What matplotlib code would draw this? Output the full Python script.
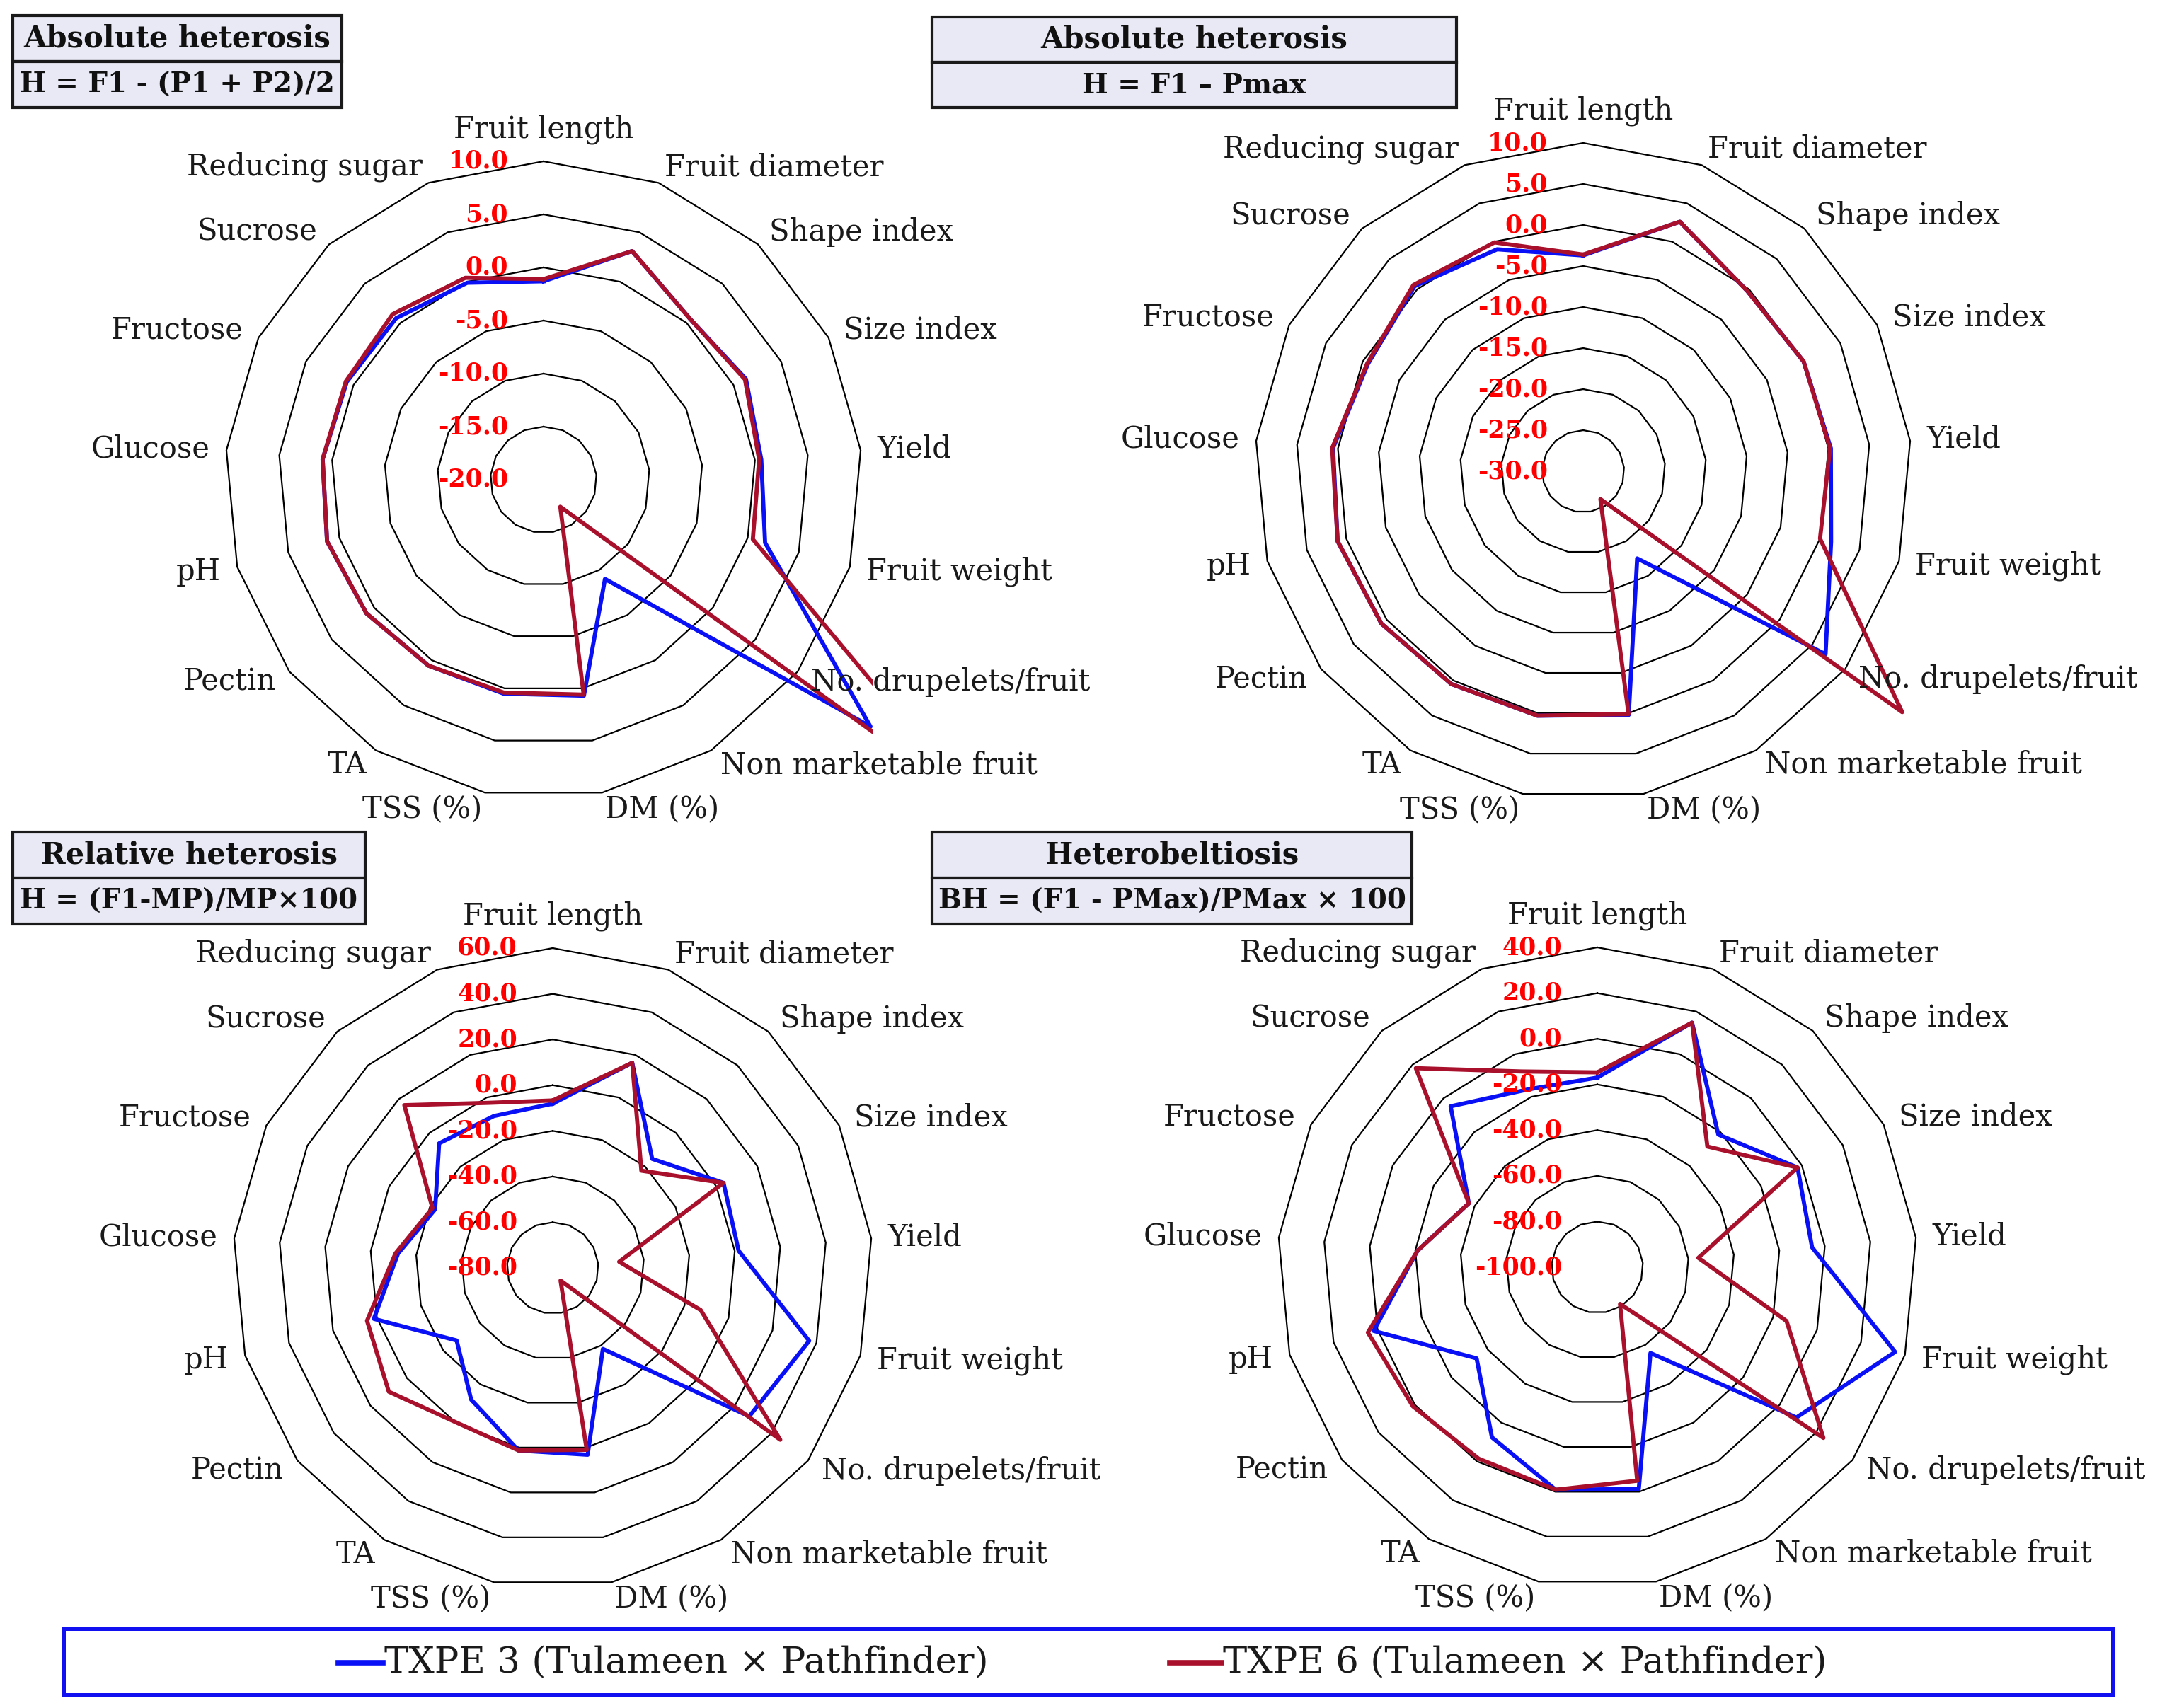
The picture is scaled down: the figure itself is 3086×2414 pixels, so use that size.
import numpy as np
import matplotlib.pyplot as plt
from matplotlib.patches import Rectangle
from matplotlib.lines import Line2D

plt.rcParams['font.family'] = ['DejaVu Serif']

W, H = 3086, 2414

categories = ['Fruit length', 'Fruit diameter', 'Shape index', 'Size index', 'Yield',
              'Fruit weight', 'No. drupelets/fruit', 'Non marketable fruit', 'DM (%)',
              'TSS (%)', 'TA', 'Pectin', 'pH', 'Glucose', 'Fructose', 'Sucrose',
              'Reducing sugar']

series_names = ['TXPE 3 (Tulameen × Pathfinder)', 'TXPE 6 (Tulameen × Pathfinder)']

# H = F1 - (P1 + P2)/2
abs_mid_txpe3 = [-1.3, 3.1, 0.5, 1.3, 0.6, 1.7, 18.6, -9.0, 0.7, 0.5, 0.6, 0.9, 1.2, 0.9, 0.7, 0.6, -0.1]
abs_mid_txpe6 = [-1.1, 3.1, 0.5, 1.2, 0.4, 0.5, 31.0, -17.0, 0.6, 0.4, 0.6, 0.9, 1.2, 0.9, 0.8, 1.1, 0.4]

# H = F1 - Pmax
abs_max_txpe3 = [-3.7, 2.6, -0.3, 0.0, 0.3, 1.4, 7.0, -17.5, 0.2, 0.3, 0.5, 0.8, 1.1, 0.6, -0.7, 0.5, -1.0]
abs_max_txpe6 = [-3.6, 2.6, -0.3, 0.0, 0.2, 0.0, 18.7, -26.0, 0.1, 0.3, 0.5, 0.8, 1.1, 0.7, -0.6, 0.7, -0.1]

# H = (F1-MP)/MP x 100
rel_txpe3 = [-8.1, 16.3, -15.4, 3.5, 1.7, 36.7, 27.8, -38.3, 3.2, 1.3, -12.2, -27.3, 1.4, -12.0, -22.5, -6.2, -8.7]
rel_txpe6 = [-6.7, 16.3, -22.4, 3.5, -50.8, -12.7, 44.8, -73.5, 1.0, 1.3, -0.3, 9.9, 4.5, -10.9, -21.2, 16.4, -2.5]

# BH = (F1 - PMax)/PMax x 100
hb_txpe3 = [-17.0, 14.8, -21.4, -2.1, -5.6, 35.5, 9.2, -55.8, -1.2, -0.9, -12.4, -33.8, 1.8, -21.0, -37.2, -4.7, -16.5]
hb_txpe6 = [-14.7, 14.8, -28.5, -2.1, -55.6, -13.9, 24.0, -81.1, -4.9, -0.9, -1.4, 1.1, 4.4, -21.0, -37.2, 17.9, -8.1]

BLUE = '#0A10F5'
RED = '#A8102C'

n = len(categories)
angles = np.arange(n) * 2 * np.pi / n
ring_x = np.sin(np.append(angles, angles[0]))
ring_y = np.cos(np.append(angles, angles[0]))

fig = plt.figure(figsize=(W / 100, H / 100), dpi=100)


def radar(cx, cy, R, vmin, vmax, step, s3, s6):
    L = 1.036  # plot area edge, lines beyond it get clipped like in Excel
    ax = fig.add_axes([(cx - L * R) / W, 1 - (cy + L * R) / H, 2 * L * R / W, 2 * L * R / H])
    ax.set_xlim(-L, L)
    ax.set_ylim(-L, L)
    ax.axis('off')
    ticks = np.arange(vmin, vmax + step / 2, step)
    span = vmax - vmin
    for t in ticks[1:]:
        r = (t - vmin) / span
        ax.plot(r * ring_x, r * ring_y, color='#000000', lw=1.6, zorder=1)
    for vals, c in ((s3, BLUE), (s6, RED)):
        r = (np.array(vals) - vmin) / span
        r = np.append(r, r[0])
        ax.plot(r * ring_x, r * ring_y, color=c, lw=4.2, zorder=3)
    for t in ticks:
        r = (t - vmin) / span
        ax.text(-50 / R, r, f'{t:.1f}', color='#FF0000', fontweight='bold', fontsize=25,
                ha='right', va='center', zorder=5)
    d = 1 + 24 / R
    for lab, a in zip(categories, angles):
        s, c = np.sin(a), np.cos(a)
        if abs(s) < 0.05:
            ha, va = 'center', 'bottom'
        else:
            ha, va = ('left' if s > 0 else 'right'), 'center'
        ax.text(d * s, d * c, lab, fontsize=30, ha=ha, va=va, color='#1a1a1a', clip_on=False)


def title_box(x0, x1, y0, y1, line1, line2):
    ym = (y0 + y1) / 2
    for ya, yb, txt, fs in ((y0, ym, line1, 30), (ym, y1, line2, 28)):
        fig.add_artist(Rectangle((x0 / W, 1 - yb / H), (x1 - x0) / W, (yb - ya) / H,
                                 transform=fig.transFigure, facecolor='#E8E9F4',
                                 edgecolor='#1a1a1a', lw=3))
        fig.text((x0 + x1) / 2 / W, 1 - (ya + yb) / 2 / H, txt, fontsize=fs,
                 fontweight='bold', ha='center', va='center', color='#111111')


radar(768, 678, 450, -20, 10, 5, abs_mid_txpe3, abs_mid_txpe6)
radar(2237, 666, 464, -30, 10, 5, abs_max_txpe3, abs_max_txpe6)
radar(781, 1792, 452, -80, 60, 20, rel_txpe3, rel_txpe6)
radar(2257, 1791, 452, -100, 40, 20, hb_txpe3, hb_txpe6)

title_box(18, 483, 22, 152, 'Absolute heterosis', 'H = F1 - (P1 + P2)/2')
title_box(1317, 2058, 24, 152, 'Absolute heterosis', 'H = F1 \u2013 Pmax')
title_box(18, 516, 1176, 1306, 'Relative heterosis', 'H = (F1-MP)/MP×100')
title_box(1317, 1995, 1176, 1306, 'Heterobeltiosis', 'BH = (F1 - PMax)/PMax × 100')

# legend box
fig.add_artist(Rectangle((90 / W, 1 - 2395 / H), 2895 / W, 93 / H, transform=fig.transFigure,
                         facecolor='white', edgecolor='#1010F0', lw=3.6))
for (xa, xb), c, name in (((478, 541), BLUE, series_names[0]), ((1653, 1726), RED, series_names[1])):
    fig.add_artist(Line2D([xa / W, xb / W], [1 - 2350 / H] * 2, transform=fig.transFigure,
                          color=c, lw=5.5))
    fig.text((xb + 2) / W, 1 - 2350 / H, name, fontsize=37, ha='left', va='center', color='#1a1a1a')

fig.savefig('out.png', dpi=100, facecolor='white')
